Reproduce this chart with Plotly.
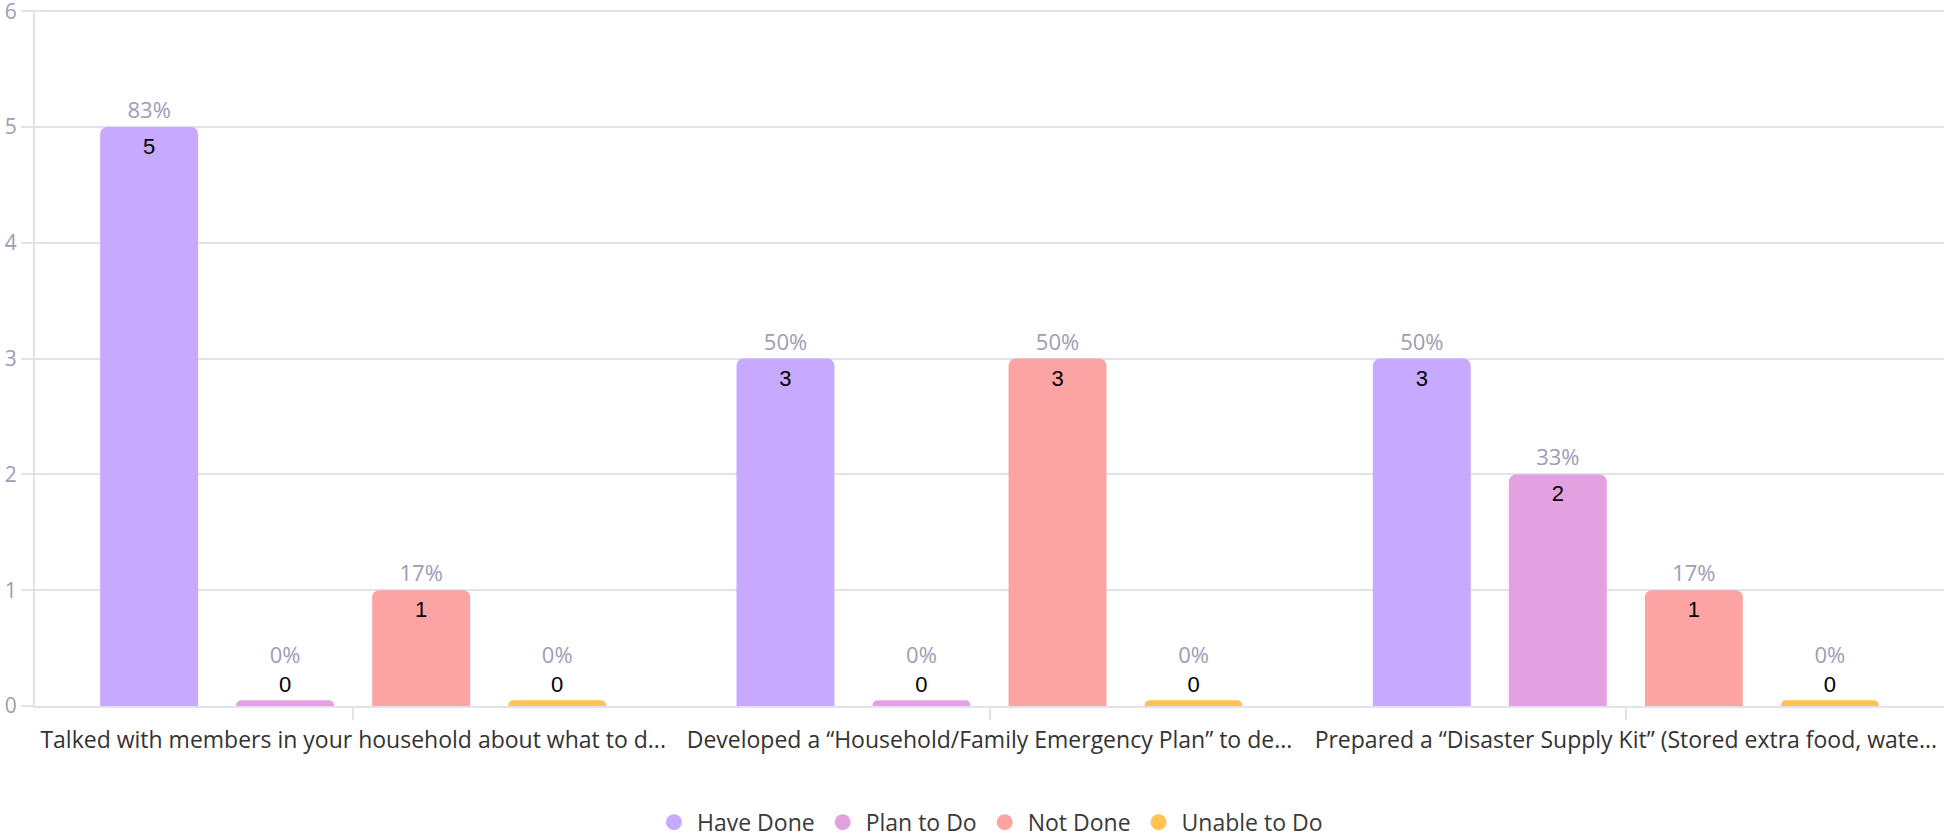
# grouped bar chart: emergency preparedness survey responses
import plotly.graph_objects as go

# --- DATA ---
questions = [
    "Talked with members in your household about what to d...",
    "Developed a “Household/Family Emergency Plan” to de...",
    "Prepared a “Disaster Supply Kit” (Stored extra food, wate...",
]
have_done = [5, 3, 3]
plan_to_do = [0, 0, 2]
not_done = [1, 3, 1]
unable_to_do = [0, 0, 0]
respondents = [6, 6, 6]

series = [
    ("Have Done", have_done, "#c7a9ff"),
    ("Plan to Do", plan_to_do, "#e4a1e2"),
    ("Not Done", not_done, "#fca3a3"),
    ("Unable to Do", unable_to_do, "#ffc254"),
]

# --- STYLE ---
label_font = "Open Sans"
grey_text = "#9c9db6"
grid_col = "#e2e2ee"
stub = 0.05  # zero-value bars still get a thin stub

fig = go.Figure()
for i, (name, vals, col) in enumerate(series):
    shown = [v if v > 0 else stub for v in vals]
    pcts = [f"{round(100 * v / n)}%" for v, n in zip(vals, respondents)]
    # count labels: inside the top of the bar, or above an empty bar
    fig.add_trace(go.Bar(
        x=questions, y=shown, name=name, offsetgroup=str(i),
        marker=dict(color=col, cornerradius=7, line=dict(width=0)),
        text=[str(v) for v in vals],
        textposition=["inside" if v > 0 else "outside" for v in vals],
        insidetextanchor="end", textangle=0, constraintext="none",
        textfont=dict(family="Liberation Sans, Arial", size=22, color="black"),
        showlegend=False, hoverinfo="skip",
    ))
    # percentage labels: transparent twin bar in the same slot
    fig.add_trace(go.Bar(
        x=questions, y=shown, name=name, offsetgroup=str(i),
        marker=dict(color="rgba(0,0,0,0)", line=dict(width=0)),
        text=[p if v > 0 else p + "<br>\u00a0" for p, v in zip(pcts, vals)],
        textposition="outside", textangle=0, constraintext="none",
        textfont=dict(family=label_font, size=22, color=grey_text),
        showlegend=False, hoverinfo="skip", cliponaxis=False,
    ))

# legend entries with round markers
for name, vals, col in series:
    fig.add_trace(go.Scatter(
        x=[None], y=[None], mode="markers", name=name,
        marker=dict(color=col, size=24, symbol="circle"),
    ))

fig.update_layout(
    width=1944, height=839,
    margin=dict(l=35, r=0, t=10, b=133, autoexpand=False),
    paper_bgcolor="white", plot_bgcolor="white",
    barmode="group", bargap=0.145, bargroupgap=0.28,
    font=dict(family=label_font, size=22, color="#333333"),
    showlegend=True,
    legend=dict(
        orientation="h", x=0.5, xanchor="center", y=-0.167, yanchor="middle",
        font=dict(family=label_font, size=23, color="#3a3a3a"),
        itemsizing="trace", traceorder="normal", itemwidth=36,
    ),
    xaxis=dict(
        showgrid=False, showline=True, linecolor=grid_col, linewidth=2,
        ticks="outside", ticklen=12, tickcolor=grid_col, tickwidth=2,
        tickfont=dict(family=label_font, size=23, color="#333333"),
        automargin=False,
    ),
    yaxis=dict(
        range=[0, 6.01], dtick=1, showgrid=True, gridcolor=grid_col, gridwidth=2,
        showline=True, linecolor=grid_col, linewidth=2, zeroline=False,
        ticks="outside", ticklen=12, tickcolor=grid_col, tickwidth=2,
        tickfont=dict(family=label_font, size=21, color=grey_text),
        ticklabeloverflow="allow", automargin=False,
    ),
)

# drop the default body margin so the figure fills the window exactly
fig.write_html("out.html", config={"displayModeBar": False},
               post_script="document.body.style.margin = '0';")
